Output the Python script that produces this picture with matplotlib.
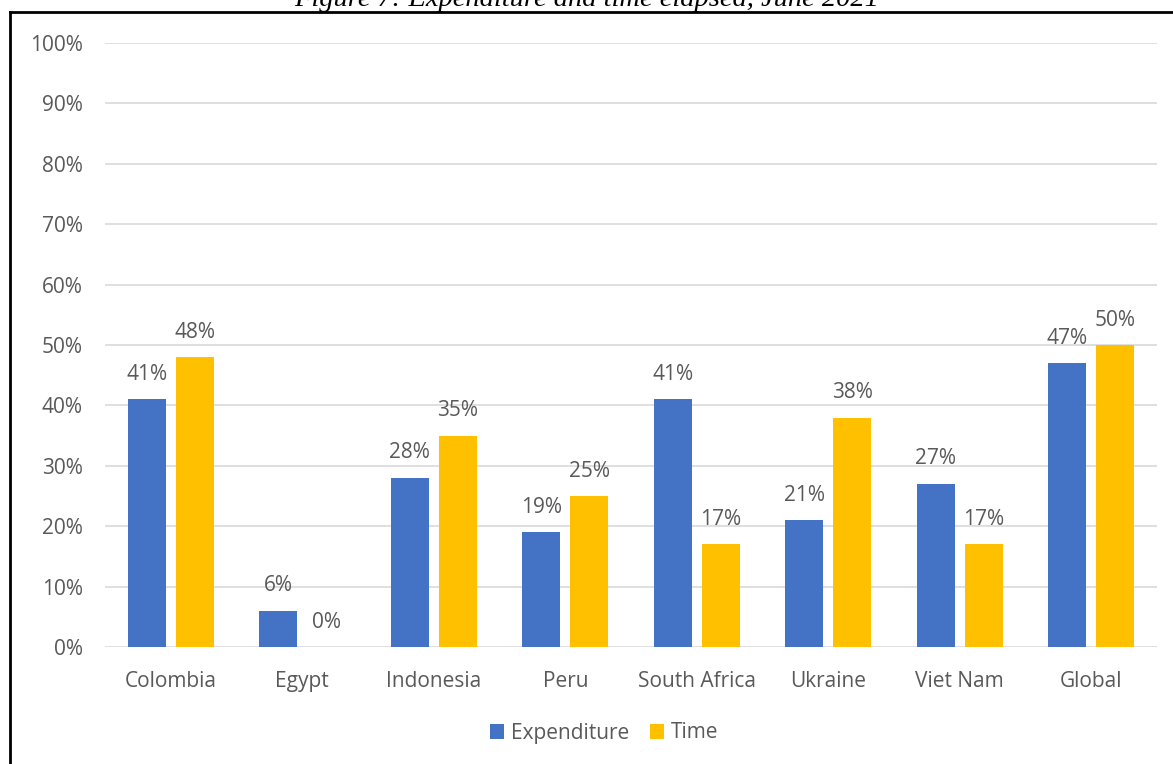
import numpy as np
import matplotlib; matplotlib.use("Agg")
import matplotlib.pyplot as plt
from matplotlib.lines import Line2D
from matplotlib.ticker import PercentFormatter

# Data
countries = ["Colombia", "Egypt", "Indonesia", "Peru", "South Africa",
             "Ukraine", "Viet Nam", "Global"]
expenditure = [41, 6, 28, 19, 41, 21, 27, 47]
time_elapsed = [48, 0, 35, 25, 17, 38, 17, 50]

BLUE = "#4472C4"
GOLD = "#FFC000"
TXT = "#595959"
GRID = "#D9D9D9"
FS = 15

plt.rcParams['font.family'] = ['Open Sans', 'DejaVu Sans']

fig = plt.figure(figsize=(11.73, 7.64), dpi=100)
ax = fig.add_axes([0.0895, 0.1531, 0.8969, 0.7906])

x = np.arange(len(countries))
w = 0.29
off = 0.183
b1 = ax.bar(x - off, expenditure, w, color=BLUE, label="Expenditure", zorder=3)
b2 = ax.bar(x + off, time_elapsed, w, color=GOLD, label="Time", zorder=3)

for bars, vals in ((b1, expenditure), (b2, time_elapsed)):
    for r, v in zip(bars, vals):
        ax.annotate(f"{v}%", (r.get_x() + r.get_width() / 2, v),
                    xytext=(0, 18), textcoords="offset points",
                    ha="center", va="center", fontsize=FS, color=TXT)

ax.set_ylim(0, 100)
ax.set_xlim(-0.5, len(countries) - 0.5)
ax.set_yticks(np.arange(0, 101, 10))
ax.yaxis.set_major_formatter(PercentFormatter(decimals=0))
ax.set_xticks(x)
ax.set_xticklabels(countries)
ax.tick_params(axis="both", length=0, colors=TXT, labelsize=FS)
ax.tick_params(axis="x", pad=17)
ax.tick_params(axis="y", pad=16)
ax.grid(True, axis="y", color=GRID, linewidth=1.2, zorder=0)
for s in ax.spines.values():
    s.set_visible(False)

fig.legend(handles=[b1, b2], loc="center", bbox_to_anchor=(604 / 1173, 1 - 733 / 764),
           ncol=2, frameon=False, fontsize=FS, labelcolor=TXT,
           handlelength=0.7, handleheight=0.7, handletextpad=0.3, columnspacing=1.0)

# frame of the chart box
fig.add_artist(Line2D([10 / 1173, 10 / 1173], [0, 1 - 12 / 764], color="black", lw=2))
fig.add_artist(Line2D([10 / 1173, 1], [1 - 12 / 764, 1 - 12 / 764], color="black", lw=2))

# caption cut off at the top
fig.text(587 / 1173, 1 + 1 / 764, "Figure 7: Expenditure and time elapsed, June 2021",
         ha="center", va="center", fontsize=20.5, style="italic",
         family=["Liberation Serif", "DejaVu Serif"], color="black")

fig.savefig("out.png", dpi=100)
